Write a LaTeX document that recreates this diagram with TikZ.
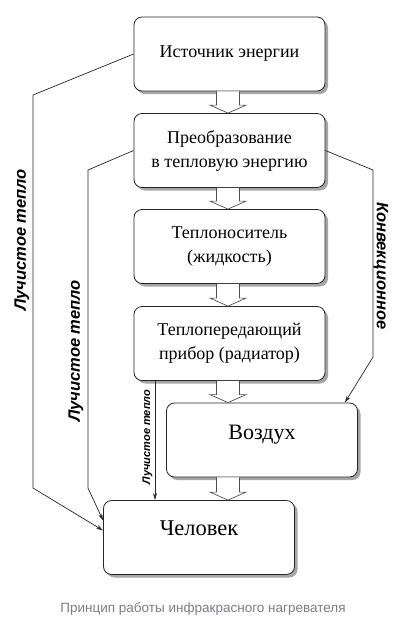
\documentclass[tikz,border=0pt]{standalone}
\usepackage{fontspec}
\setmainfont{Liberation Serif}
\setsansfont{Liberation Sans}
\usepackage{tikz}
\usetikzlibrary{arrows.meta,calc,shadows}
\usepackage{xcolor}
\definecolor{captiongray}{RGB}{125,125,135}

\tikzset{
  stage/.style={draw=black!85, line width=0.8pt, fill=white, rounded corners=8pt,
    minimum width=191pt, minimum height=74pt, align=center, inner sep=0pt,
    font=\fontsize{18}{24}\selectfont,
    drop shadow={shadow xshift=3pt, shadow yshift=-3pt, opacity=0.35, fill=black}},
  blockarrow/.style={draw=black!70, line width=0.7pt, fill=white},
  heatline/.style={draw=black!85, line width=0.7pt, -{Stealth[length=7pt,width=4pt]}},
  heatlabel/.style={font=\sffamily\itshape\bfseries\fontsize{16.5}{17}\selectfont, inner sep=0pt}
}

% полая стрелка между блоками
\newcommand{\flowarrow}[2]{%
  \draw[blockarrow] let \p1=(#1.south -| axis), \p2=(#2.north -| axis) in
    (\x1-11.5pt,\y1) -- (\x1-11.5pt,\y2+8pt) -- (\x1-18pt,\y2+8pt) -- (\x1,\y2)
    -- (\x1+18pt,\y2+8pt) -- (\x1+11.5pt,\y2+8pt) -- (\x1+11.5pt,\y1);}

\begin{document}
\begin{tikzpicture}[x=1pt, y=-1pt]
    \fill[white] (0,0) rectangle (407,625);
    \useasboundingbox (0,0) rectangle (407,625);

    % блоки
    \node[stage] (source) at (229.5,54) {Источник энергии};
    \node[stage] (convert) at (229.5,150.5) {Преобразование\\в тепловую энергию};
    \node[stage] (carrier) at (229.5,246.5) {Теплоноситель\\(жидкость)};
    \node[stage] (radiator) at (229.5,343.5) {Теплопередающий\\прибор (радиатор)};
    \node[stage, font=\fontsize{22}{22}\selectfont] (air) at (262,440)
        {\raisebox{1pt}[0pt][0pt]{Воздух}};
    \node[stage, font=\fontsize{22.5}{22.5}\selectfont] (human) at (199,537.5)
        {\raisebox{2.5pt}[0pt][0pt]{Человек}};

    % стрелки
    \coordinate (axis) at (228,0);
    \flowarrow{source}{convert}
    \flowarrow{convert}{carrier}
    \flowarrow{carrier}{radiator}
    \flowarrow{radiator}{air}
    \flowarrow{air}{human}

    % потоки тепла
    \coordinate (drop) at (155,0);
    \draw[heatline] (source.west) -- (33,95) -- (33,488) -- ($(human.west)+(0,-7)$);
    \draw[heatline] (convert.west) -- (88,170) -- (88,488) -- ($(human.west)+(0,-17)$);
    \draw[heatline] (convert.east) -- (373,170) -- (373,357) -- ($(air.north east)+(-13,0)$);
    \draw[heatline] (radiator.south -| drop) -- (human.north -| drop);

    % подписи
    \node[heatlabel, rotate=90] (ray1) at (22,240) {Лучистое тепло};
    \node[heatlabel, rotate=90] (ray2) at (76,351) {Лучистое тепло};
    \node[heatlabel, rotate=-90] (conv) at (381,266) {Конвекционное};
    \node[heatlabel, rotate=90, font=\sffamily\itshape\bfseries\fontsize{11}{11}\selectfont] (ray3)
        at (147.5,437) {Лучистое тепло};

    \node[font=\sffamily\fontsize{13.5}{14}\selectfont, text=captiongray] (caption)
        at (203,609) {Принцип работы инфракрасного нагревателя};
\end{tikzpicture}
\end{document}
